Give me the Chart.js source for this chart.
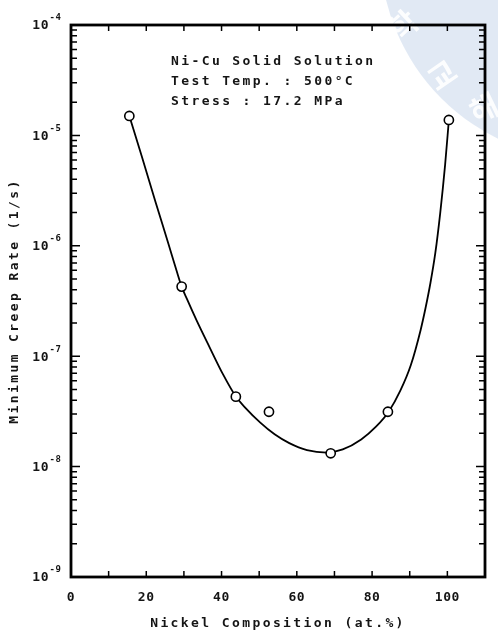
<!DOCTYPE html>
<html>
<head>
<meta charset="utf-8">
<script src="https://cdn.jsdelivr.net/npm/chart.js@4.4.1/dist/chart.umd.min.js"></script>
<style>
html, body { margin: 0; padding: 0; background: #fff; }
#wrap { width: 498px; height: 631px; }
</style>
</head>
<body>
<div id="wrap"><canvas id="creepChart" width="498" height="631"></canvas></div>
<script>
// measured minimum creep rates (open circles)
var nickelPct = [15.5, 29.4, 43.8, 52.6, 69.0, 84.2, 100.4];
var creepRate = [1.5e-5, 4.27e-7, 4.3e-8, 3.14e-8, 1.32e-8, 3.14e-8, 1.38e-5];

// fitted curve
var fitNickel = [15.5, 18.9, 22.5, 25.9, 28.2, 29.4, 30.8, 33.4, 36.8, 40.4, 43.8, 46.4, 50.3, 54.1, 58.0, 62.7, 67.9, 72.2, 77.1, 81.1, 84.4, 87.5, 90.3, 92.9, 94.2, 95.5, 96.8, 98.1, 99.4, 100.4];
var fitRate = [1.5e-5, 6.3e-6, 2.47e-6, 1.04e-6, 5.73e-7, 4.27e-7, 3.3e-7, 2.1e-7, 1.21e-7, 6.84e-8, 4.31e-8, 3.39e-8, 2.5e-8, 1.96e-8, 1.63e-8, 1.41e-8, 1.34e-8, 1.43e-8, 1.76e-8, 2.31e-8, 3.14e-8, 4.87e-8, 8.32e-8, 1.73e-7, 2.73e-7, 4.6e-7, 8.61e-7, 1.98e-6, 5.4e-6, 1.38e-5];

var xLabelValues = [0, 20, 40, 60, 80, 100];
var yDecades = [-9, -8, -7, -6, -5, -4];
var noteLines = ['Ni-Cu Solid Solution', 'Test Temp. : 500\u00b0C', 'Stress : 17.2 MPa'];
var sealChars = ['\ud559', '\uad50', '\ud574'];

var monoFont = '"DejaVu Sans Mono", "Liberation Mono", monospace';

// extra drawing: background, seal, frame, inward ticks, y labels, note
var drawExtras = {
    id: 'drawExtras',
    beforeDraw: function(chart) {
        var ctx = chart.ctx;
        ctx.save();
        ctx.fillStyle = '#ffffff';
        ctx.fillRect(0, 0, chart.width, chart.height);
        // faint seal watermark in the corner
        ctx.fillStyle = 'rgba(205, 218, 236, 0.6)';
        ctx.beginPath();
        ctx.arc(590, -50, 210, 0, Math.PI * 2);
        ctx.fill();
        ctx.fillStyle = 'rgba(255, 255, 255, 0.9)';
        ctx.font = 'bold 30px "Noto Sans CJK KR"';
        ctx.textAlign = 'center';
        ctx.textBaseline = 'middle';
        var spots = [[403, 25, -0.75], [442, 75, -0.6], [484, 108, -0.45]];
        for (var i = 0; i < spots.length; i++) {
            ctx.save();
            ctx.translate(spots[i][0], spots[i][1]);
            ctx.rotate(spots[i][2]);
            ctx.fillText(sealChars[i], 0, 0);
            ctx.restore();
        }
        ctx.restore();
        ctx.letterSpacing = '2.4px'; // axis titles
    },
    afterDatasetsDraw: function(chart) {
        chart.ctx.letterSpacing = '0.6px'; // x tick labels
    },
    afterDraw: function(chart) {
        var ctx = chart.ctx;
        var area = chart.chartArea;
        var xs = chart.scales.x;
        var ys = chart.scales.y;
        ctx.save();
        ctx.strokeStyle = '#000';
        ctx.lineWidth = 1.5;
        ctx.beginPath();
        // x ticks, bottom and top, pointing inward
        xs.ticks.forEach(function(t) {
            var px = xs.getPixelForValue(t.value);
            ctx.moveTo(px, area.bottom);
            ctx.lineTo(px, area.bottom - 6);
            ctx.moveTo(px, area.top);
            ctx.lineTo(px, area.top + 6);
        });
        // y ticks, every 1..9 within each decade
        for (var e = -9; e <= -5; e++) {
            for (var m = 1; m <= 9; m++) {
                var py = ys.getPixelForValue(m * Math.pow(10, e));
                var len = m === 1 ? 9 : 6;
                ctx.moveTo(area.left, py);
                ctx.lineTo(area.left + len, py);
                ctx.moveTo(area.right, py);
                ctx.lineTo(area.right - len, py);
            }
        }
        ctx.stroke();
        // frame
        ctx.lineWidth = 2.8;
        ctx.strokeRect(area.left, area.top, area.right - area.left, area.bottom - area.top);

        // y labels 10^n
        ctx.letterSpacing = '0.5px';
        ctx.fillStyle = '#151515';
        yDecades.forEach(function(d) {
            var py = ys.getPixelForValue(Math.pow(10, d));
            ctx.font = 'bold 13px ' + monoFont;
            ctx.textAlign = 'right';
            ctx.textBaseline = 'middle';
            ctx.fillText('10', 49, py + 1);
            ctx.font = 'bold 9px ' + monoFont;
            ctx.textAlign = 'left';
            ctx.fillText('-' + Math.abs(d), 49.5, py - 7);
        });

        // note text
        ctx.letterSpacing = '2.4px';
        ctx.font = 'bold 13px ' + monoFont;
        ctx.textAlign = 'left';
        ctx.textBaseline = 'middle';
        noteLines.forEach(function(line, i) {
            ctx.fillText(line, area.left + 100, area.top + 37 + i * 20);
        });
        ctx.restore();
    }
};

var ctx = document.getElementById('creepChart').getContext('2d');
var creepChart = new Chart(ctx, {
    type: 'scatter',
    data: {
        datasets: [{
            label: 'Measured',
            data: nickelPct.map(function(x, i) { return {x: x, y: creepRate[i]}; }),
            pointRadius: 4.6,
            pointBorderWidth: 1.6,
            pointBorderColor: '#000',
            pointBackgroundColor: '#fff',
            showLine: false
        }, {
            label: 'Fit',
            data: fitNickel.map(function(x, i) { return {x: x, y: fitRate[i]}; }),
            showLine: true,
            pointRadius: 0,
            borderColor: '#000',
            borderWidth: 1.8,
            cubicInterpolationMode: 'monotone'
        }]
    },
    options: {
        responsive: false,
        animation: false,
        layout: { padding: { top: 25, right: 2, left: 0, bottom: 0 } },
        plugins: {
            legend: { display: false },
            tooltip: { enabled: false }
        },
        scales: {
            x: {
                type: 'linear',
                min: 0,
                max: 110,
                grid: { display: false, drawTicks: false },
                border: { display: false },
                ticks: {
                    stepSize: 10,
                    padding: 13,
                    z: 1,
                    color: '#151515',
                    font: { family: monoFont, size: 13, weight: 'bold' },
                    maxRotation: 0,
                    autoSkip: false,
                    callback: function(v) { return xLabelValues.indexOf(v) >= 0 ? String(v) : ''; }
                },
                title: {
                    display: true,
                    text: 'Nickel Composition (at.%)',
                    color: '#151515',
                    font: { family: monoFont, size: 13, weight: 'bold' },
                    padding: { top: 0, bottom: 0 }
                },
                afterFit: function(scale) { scale.height = 54; }
            },
            y: {
                type: 'logarithmic',
                min: 1e-9,
                max: 1e-4,
                grid: { display: false, drawTicks: false },
                border: { display: false },
                ticks: { display: false },
                title: {
                    display: true,
                    text: 'Minimum Creep Rate (1/s)',
                    color: '#151515',
                    font: { family: monoFont, size: 13, weight: 'bold' },
                    padding: { top: 7, bottom: 0 }
                },
                afterFit: function(scale) { scale.width = 71; }
            }
        }
    },
    plugins: [drawExtras]
});
</script>
</body>
</html>
